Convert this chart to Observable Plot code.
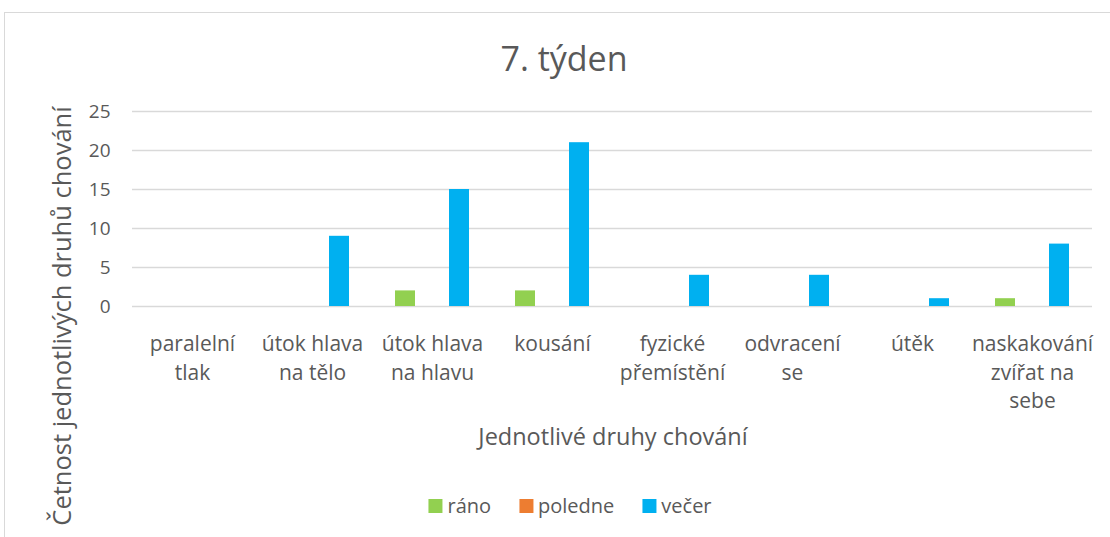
<!DOCTYPE html>
<html><head><meta charset="utf-8">
<script src="https://cdn.jsdelivr.net/npm/d3@7"></script>
<script src="https://cdn.jsdelivr.net/npm/@observablehq/plot@0.6"></script>
<style>
body{margin:0;background:#fff;font-family:"Open Sans",sans-serif;color:#595959}
#wrap{position:relative;width:1110px;height:537px;overflow:hidden;background:#fff}
#frame{position:absolute;left:4px;top:12px;width:1200px;height:700px;border:1px solid #d9d9d9;box-sizing:border-box}
#chart{position:absolute;left:0;top:0}
.lbl{position:absolute;line-height:1;white-space:nowrap;transform:translate(-50%,-50%)}
#title{left:564px;top:58px;font-size:34px}
#xtitle{left:613px;top:437px;font-size:23.5px}
#ytitle{left:62px;top:316px;font-size:25.5px;transform:translate(-50%,-50%) rotate(-90deg)}
#legend{position:absolute;left:570px;top:506px;transform:translate(-50%,-50%);display:flex;gap:28px;font-size:20px;line-height:1}
.item{display:flex;align-items:center;gap:5px}
.sw{width:14px;height:14px;display:inline-block}
</style></head><body>
<div id="wrap">
 <div id="frame"></div>
 <div id="chart"></div>
 <div id="title" class="lbl">7. týden</div>
 <div id="xtitle" class="lbl">Jednotlivé druhy chování</div>
 <div id="ytitle" class="lbl">Četnost jednotlivých druhů chování</div>
 <div id="legend"></div>
</div>
<script>
const categories = ["paralelní tlak","útok hlava na tělo","útok hlava na hlavu","kousání","fyzické přemístění","odvracení se","útěk","naskakování zvířat na sebe"];
const categoryLabels = ["paralelní\ntlak","útok hlava\nna tělo","útok hlava\nna hlavu","kousání","fyzické\npřemístění","odvracení\nse","útěk","naskakování\nzvířat na\nsebe"];
const series = ["ráno","poledne","večer"];
const rano = [0,0,2,2,0,0,0,1];
const poledne = [0,0,0,0,0,0,0,0];
const vecer = [0,9,15,21,4,4,1,8];
const colors = ["#92d050","#ed7d31","#00b0f0"];
const yTicks = [0,5,10,15,20,25];

const seriesValues = [rano, poledne, vecer];
const rows = [];
categories.forEach((c,i)=>{ seriesValues.forEach((arr,j)=>rows.push({category:c, series:series[j], value:arr[i]})); });

const plot = Plot.plot({
  width:1110, height:537,
  marginTop:111, marginBottom:231, marginLeft:130, marginRight:17,
  style:{fontFamily:"Open Sans", fontSize:"19px", color:"#595959", background:"transparent", overflow:"visible"},
  fx:{domain:categories, padding:0, label:null},
  x:{domain:series, paddingInner:0.245, paddingOuter:0.77, axis:null},
  y:{domain:[0,25], label:null},
  color:{domain:series, range:colors},
  marks:[
    Plot.ruleY(yTicks,{stroke:"#d9d9d9", strokeWidth:1.5}),
    Plot.barY(rows,{fx:"category", x:"series", y:"value", fill:"series"}),
    Plot.axisY(yTicks,{tickSize:0, tickPadding:22, label:null, fontSize:19}),
    Plot.axisFx({anchor:"bottom", tickSize:0, tickPadding:24, label:null, fontSize:21, lineHeight:1.37,
      tickFormat:(d)=>categoryLabels[categories.indexOf(d)]})
  ]
});
document.getElementById("chart").appendChild(plot);

const legend = document.getElementById("legend");
series.forEach((s,i)=>{
  const it = document.createElement("div"); it.className="item";
  const sw = document.createElement("span"); sw.className="sw"; sw.style.background=colors[i];
  const t = document.createElement("span"); t.textContent=s;
  it.appendChild(sw); it.appendChild(t); legend.appendChild(it);
});
</script>
</body></html>
